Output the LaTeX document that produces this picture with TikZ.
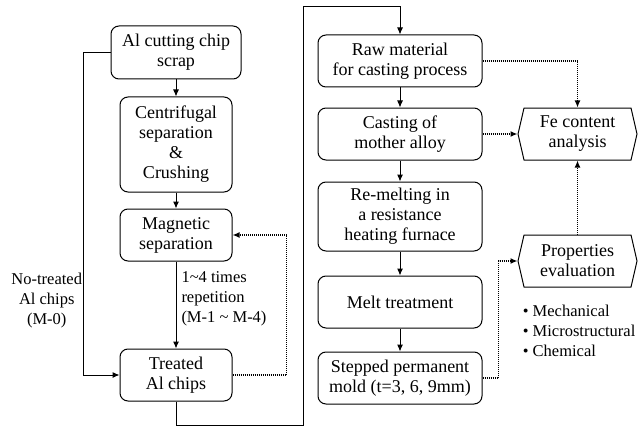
\documentclass[tikz,border=0pt]{standalone}
\usepackage{fontspec}
\setmainfont{Liberation Serif}
\usetikzlibrary{positioning,shapes.symbols,arrows.meta}

\begin{document}
\begin{tikzpicture}[x=1pt, y=1pt,
    font=\fontsize{18}{20}\selectfont,
    box/.style={draw, rounded corners=8pt, line width=1pt, align=center,
        minimum height=52pt, inner sep=2pt},
    hexbox/.style={draw, shape=signal, signal to=west and east,
        signal pointer angle=154, line width=1pt, align=center,
        minimum width=119pt, minimum height=52pt, inner sep=2pt},
    note/.style={font=\fontsize{16.5}{20}\selectfont, inner sep=1pt},
    arr/.style={-{Latex[length=7pt,width=6pt]}, line width=1pt},
    dots/.style={arr, densely dotted, line width=1.3pt}]

    \useasboundingbox (0,0) rectangle (643,-428);

    % chip treatment
    \node[box, minimum width=130pt, minimum height=53pt] at (176,-52.5) (scrap) {Al cutting chip\\scrap};
    \node[box, minimum width=112pt, minimum height=95pt, below=17pt of scrap] (crush) {Centrifugal\\separation\\\&\\Crushing};
    \node[box, minimum width=112pt, below=16pt of crush] (magsep) {Magnetic\\separation};
    \node[box, minimum width=112pt, below=87pt of magsep] (treated) {Treated\\Al chips};

    % casting
    \node[box, minimum width=164pt] at (400,-61) (raw) {Raw material\\for casting process};
    \node[box, minimum width=164pt, below=20pt of raw] (mother) {Casting of\\mother alloy};
    \node[box, minimum width=164pt, minimum height=69pt, below=21pt of mother] (remelt) {Re-melting in\\a resistance\\heating furnace};
    \node[box, minimum width=164pt, below=24pt of remelt] (melttr) {Melt treatment};
    \node[box, minimum width=164pt, below=23pt of melttr] (mold) {Stepped permanent\\mold (t=3, 6, 9mm)};

    % analysis
    \node[hexbox, right=35pt of mother] (fe) {Fe content\\analysis};
    \node[hexbox, below=74pt of fe] (props) {Properties\\evaluation};
    \node[note, align=left, anchor=north west] at ([xshift=-2pt,yshift=-16pt]props.south west) (proplist)
        {\textbullet\ Mechanical\\\textbullet\ Microstructural\\\textbullet\ Chemical};

    \draw[arr] (scrap) -- (crush);
    \draw[arr] (crush) -- (magsep);
    \draw[arr] (magsep) -- node[note, right, align=left, pos=0.43, xshift=4pt] (repeat)
        {1\textasciitilde4 times\\repetition\\(M-1 \textasciitilde{} M-4)} (treated);
    \draw[arr] (scrap.west) -- ++(-27pt,0) |- node[note, left, align=center, pos=0.385] (notreat)
        {No-treated\\Al chips\\(M-0)} (treated.west);
    \draw[dots] (treated.east) -- ++(54pt,0) |- (magsep.east);
    \draw[arr] (treated.south) -- ++(0,-24pt) -| ([xshift=-14pt,yshift=28pt]raw.north west) -| (raw.north);

    \foreach \from/\to in {raw/mother, mother/remelt, remelt/melttr, melttr/mold}
    \draw[arr] (\from) -- (\to);

    \draw[dots] (raw.east) -| (fe.north);
    \draw[dots] (mother.east) -- (fe.west);
    \draw[dots] (props.north) -- (fe.south);
    \draw[dots] (mold.east) -- ++(16pt,0) |- (props.west);

\end{tikzpicture}
\end{document}
